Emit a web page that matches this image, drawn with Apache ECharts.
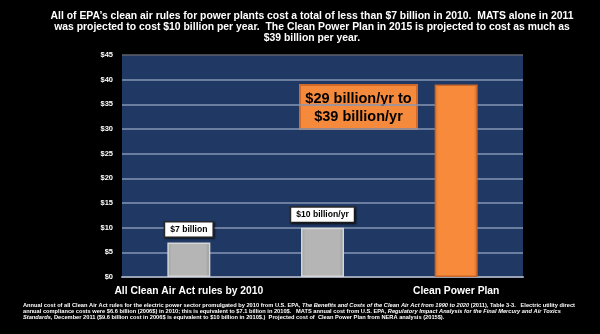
<!DOCTYPE html>
<html>
<head>
<meta charset="utf-8">
<script src="https://cdn.jsdelivr.net/npm/echarts@6/dist/echarts.min.js"></script>
<style>
  html, body { margin: 0; padding: 0; background: #000; }
  #chart { width: 600px; height: 334px; }
</style>
</head>
<body>
<div id="chart"></div>
<script>
// Annual compliance cost of power-plant air rules, billions of dollars
var categories = ['All Clean Air Act rules by 2010', 'MATS', 'Clean Power Plan'];
var costs = [7, 10, 39];
var valueLabels = ['$7 billion', '$10 billion/yr', null];
var rangeNote = ['$29 billion/yr to', '$39 billion/yr'];
var yTicks = { min: 0, max: 45, step: 5, prefix: '$' };

var titleLines = [
  "All of EPA\u2019s clean air rules for power plants cost a total of less than $7 billion in 2010.  MATS alone in 2011",
  "was projected to cost $10 billion per year.  The Clean Power Plan in 2015 is projected to cost as much as",
  "$39 billion per year."
];

var FONT = "'Liberation Sans', Arial, sans-serif";

// bevelled look: a light rim fading into a flat face
var grayFill = {
  type: 'linear', x: 0, y: 0, x2: 1, y2: 0,
  colorStops: [{ offset: 0, color: '#9e9e9e' }, { offset: 0.1, color: '#b5b5b5' }, { offset: 0.9, color: '#b5b5b5' }, { offset: 1, color: '#8f8f8f' }]
};
var orangeFill = {
  type: 'linear', x: 0, y: 0, x2: 1, y2: 0,
  colorStops: [{ offset: 0, color: '#e57a32' }, { offset: 0.1, color: '#f88a3b' }, { offset: 0.9, color: '#f88a3b' }, { offset: 1, color: '#d9702c' }]
};

var barData = costs.map(function (v, i) {
  var isPlan = i === 2;
  return {
    value: v,
    itemStyle: {
      color: isPlan ? orangeFill : grayFill,
      borderColor: isPlan ? '#c9672a' : '#d6d6d6',
      borderWidth: 1.5
    },
    label: valueLabels[i] ? { show: true, formatter: valueLabels[i] } : { show: false }
  };
});

// split line colours: light rules, darker gray at the top
var splitColors = [];
for (var k = 0; k < 9; k++) splitColors.push('#8796b3');
splitColors.push('#5f636c');

var chart = echarts.init(document.getElementById('chart'), null, { renderer: 'canvas' });
chart.setOption({
  backgroundColor: '#000000',
  animation: false,
  title: [{
    text: titleLines.join('\n'),
    left: 307,
    top: 6,
    textAlign: 'center',
    textStyle: { color: '#ffffff', fontFamily: FONT, fontWeight: 'bold', fontSize: 10.4, lineHeight: 11 }
  }, {
    text: [
      '{n|Annual cost of all Clean Air Act rules for the electric power sector promulgated by 2010 from U.S. EPA, }{i|The Benefits and Costs of the Clean Air Act from 1990 to 2020}{n| (2011), Table 3-3.   Electric utility direct}',
      '{n|annual compliance costs were $6.6 billion (2006$) in 2010; this is equivalent to $7.1 billion in 2010$.   MATS annual cost from U.S. EPA, }{i|Regulatory Impact Analysis for the Final Mercury and Air Toxics}',
      '{i|Standards}{n|, December 2011 ($9.6 billion cost in 2006$ is equivalent to $10 billion in 2010$.)  Projected cost of  Clean Power Plan from NERA analysis (2015$).}'
    ].join('\n'),
    left: 18,
    top: 298,
    textStyle: {
      rich: {
        n: { color: '#ffffff', fontFamily: FONT, fontWeight: 'bold', fontSize: 5.7, lineHeight: 5.6 },
        i: { color: '#ffffff', fontFamily: FONT, fontWeight: 'bold', fontStyle: 'italic', fontSize: 5.7, lineHeight: 5.6 }
      }
    }
  }],
  grid: {
    left: 122, right: 77, top: 55, bottom: 57,
    show: true, backgroundColor: '#1f3864', borderWidth: 0
  },
  xAxis: {
    type: 'category',
    data: categories,
    axisLine: { lineStyle: { color: '#9aa3b5', width: 2 } },
    axisTick: { show: false },
    axisLabel: { color: '#ffffff', fontFamily: FONT, fontWeight: 'bold', fontSize: 10.3, margin: 9 }
  },
  yAxis: {
    type: 'value',
    min: yTicks.min, max: yTicks.max, interval: yTicks.step,
    axisLine: { show: false },
    axisTick: { show: false },
    splitLine: { lineStyle: { color: splitColors, width: 1.5 } },
    axisLabel: {
      color: '#ffffff', fontFamily: FONT, fontWeight: 'bold', fontSize: 7.5, margin: 9,
      formatter: function (v) { return yTicks.prefix + v; }
    }
  },
  series: [{
    type: 'bar',
    data: barData,
    barWidth: 43,
    label: {
      position: 'top',
      distance: 6,
      color: '#000000',
      fontFamily: FONT, fontWeight: 'bold', fontSize: 8.6,
      backgroundColor: '#ffffff',
      borderColor: '#2a2a2a', borderWidth: 1.5,
      shadowColor: 'rgba(0,0,0,0.6)', shadowBlur: 2, shadowOffsetX: 1, shadowOffsetY: 1,
      padding: [2.5, 5, 2.5, 5]
    }
  }],
  graphic: [{
    type: 'group',
    left: 299,
    top: 84,
    children: [{
      type: 'rect',
      shape: { x: 0, y: 0, width: 117, height: 44 },
      style: { fill: '#f68a3c', stroke: '#d0692a', lineWidth: 2 }
    }, {
      type: 'text',
      x: 58.5, y: 23,
      style: {
        text: rangeNote.join('\n'),
        fill: '#000000',
        font: 'bold 14.5px ' + FONT,
        lineHeight: 18,
        align: 'center',
        verticalAlign: 'middle'
      }
    }]
  }]
});
</script>
</body>
</html>
